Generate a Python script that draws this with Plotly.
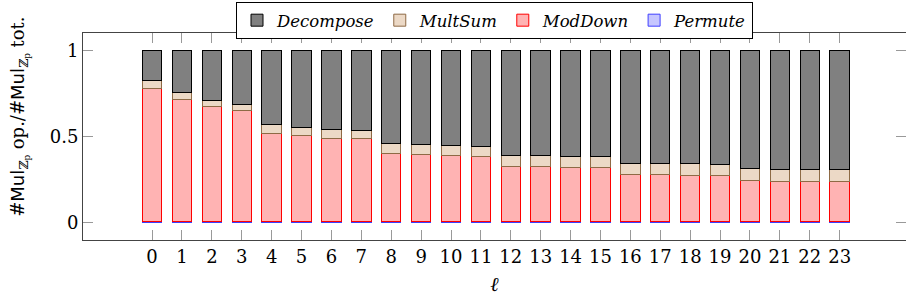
import plotly.graph_objects as go

# ---- data (segment heights of each stacked bar, fraction of total) ----
levels = list(range(24))
tick_labels = [str(v) for v in levels]

permute = [0.005] * 24
moddown = [0.776, 0.711, 0.670, 0.647, 0.511, 0.498, 0.486, 0.481,
           0.395, 0.388, 0.384, 0.380, 0.322, 0.320, 0.316, 0.315,
           0.273, 0.272, 0.270, 0.268, 0.239, 0.237, 0.235, 0.233]
multsum = [0.045, 0.038, 0.035, 0.033, 0.052, 0.050, 0.051, 0.048,
           0.058, 0.059, 0.058, 0.056, 0.064, 0.064, 0.064, 0.063,
           0.068, 0.065, 0.067, 0.066, 0.069, 0.069, 0.070, 0.072]
decompose = [0.174, 0.246, 0.290, 0.315, 0.432, 0.447, 0.458, 0.466,
             0.542, 0.548, 0.553, 0.559, 0.609, 0.611, 0.615, 0.617,
             0.654, 0.658, 0.658, 0.661, 0.687, 0.689, 0.690, 0.690]

SERIF = "DejaVu Serif"
SANS = "DejaVu Sans"

fig = go.Figure()
series = [
    ("Permute", permute, "#B3B3FF", "#0000FF", 0.75),
    ("ModDown", moddown, "#FFB3B3", "#FF0000", 1.0),
    ("MultSum", multsum, "#ECD9C6", "#8E6A45", 1.0),
    ("Decompose", decompose, "#808080", "#000000", 1.0),
]
for name, vals, fill, line, op in series:
    fig.add_trace(go.Bar(
        x=levels, y=vals, name=name, width=0.65, opacity=op,
        marker=dict(color=fill, line=dict(color=line, width=1)),
    ))

fig.update_layout(
    template="none",
    barmode="stack",
    width=906, height=303,
    margin=dict(l=83, r=0, t=33, b=63, autoexpand=False),
    plot_bgcolor="white", paper_bgcolor="white",
    font=dict(family=SERIF, size=18, color="black"),
    showlegend=True,
    legend=dict(
        orientation="h", traceorder="reversed",
        x=0.5, xanchor="center", y=1.15, yanchor="top",
        bgcolor="white", bordercolor="black", borderwidth=1,
        font=dict(family=SERIF, size=16.5, style="italic"),
        itemwidth=30,
    ),
    xaxis=dict(
        range=[-2.31, 25.22],
        tickmode="array", tickvals=levels, ticktext=tick_labels,
        ticks="inside", ticklen=10, tickcolor="#999999",
        showline=True, linecolor="#444444", linewidth=1, mirror="ticks",
        showgrid=False, zeroline=False,
        tickfont=dict(family=SERIF, size=18),
        title=dict(text="ℓ", font=dict(family=SERIF, size=20, style="italic"), standoff=11),
    ),
    yaxis=dict(
        range=[-0.1, 1.1],
        tickmode="array", tickvals=[0, 0.5, 1], ticktext=["0", "0.5", "1"],
        ticks="inside", ticklen=10, tickcolor="#999999",
        showline=True, linecolor="#444444", linewidth=1, mirror="ticks",
        showgrid=False, zeroline=False,
        tickfont=dict(family=SERIF, size=18),
    ),
)

ylabel = ("#<span style='font-family:DejaVu Sans'>Mul</span><sub>ℤ<sub>p</sub></sub> op./"
          "#<span style='font-family:DejaVu Sans'>Mul</span><sub>ℤ<sub>p</sub></sub> tot.")
fig.add_annotation(
    text=ylabel, textangle=-90, showarrow=False,
    xref="paper", yref="paper", x=-0.078, y=0.594,
    xanchor="center", yanchor="middle",
    font=dict(family=SERIF, size=18),
)

fig.write_html("out.html", config={"displayModeBar": False},
               post_script="document.body.style.margin='0';")
